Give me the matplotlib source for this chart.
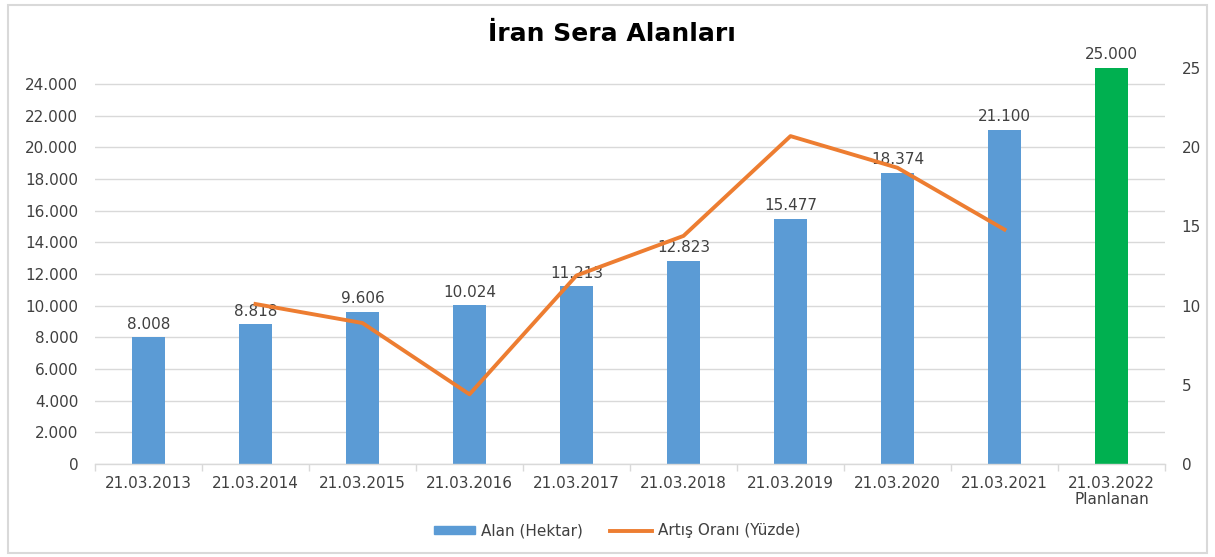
import matplotlib
matplotlib.use("Agg")
import matplotlib.pyplot as plt
from matplotlib.patches import Rectangle
from matplotlib.lines import Line2D
from matplotlib.ticker import FuncFormatter

categories = ["21.03.2013", "21.03.2014", "21.03.2015", "21.03.2016", "21.03.2017",
              "21.03.2018", "21.03.2019", "21.03.2020", "21.03.2021", "21.03.2022\nPlanlanan"]
area = [8008, 8818, 9606, 10024, 11213, 12823, 15477, 18374, 21100, 25000]
growth = [None, 10.1, 8.9, 4.4, 11.9, 14.4, 20.7, 18.7, 14.8, None]

plt.rcParams['font.family'] = ['DejaVu Sans']
txt = '#404040'
blue = '#5B9BD5'
green = '#00B050'
orange = '#ED7D31'
fs = 11

fig = plt.figure(figsize=(12.15, 5.57), dpi=100)
fig.patches.append(Rectangle((8/1215, 4/557), 1199/1215, 548/557, transform=fig.transFigure,
                             fill=False, edgecolor='#d9d9d9', linewidth=1.5))
ax = fig.add_axes([95/1215, 1-464/557, 1070/1215, 396/557])
x = list(range(len(categories)))
colors = [blue]*9 + [green]
ax.bar(x, area, width=0.31, color=colors, zorder=2)
ax.set_xlim(-0.5, len(categories)-0.5)
ax.set_ylim(0, 25000)
ax.set_yticks(range(0, 24001, 2000))
fmt = lambda v, p: f"{int(v):,}".replace(",", ".")
ax.yaxis.set_major_formatter(FuncFormatter(fmt))
ax.grid(axis='y', color='#d9d9d9', linewidth=1, zorder=0)
for s in ['top', 'right', 'left']:
    ax.spines[s].set_visible(False)
ax.spines['bottom'].set_color('#d9d9d9')
ax.spines['bottom'].set_linewidth(1)
ax.set_xticks(x)
ax.set_xticklabels(categories, fontsize=fs, color=txt, linespacing=1.0)
ax.tick_params(axis='x', length=0, pad=9)
ax.set_xticks([i + 0.5 for i in range(-1, len(categories))], minor=True)
ax.tick_params(axis='x', which='minor', length=5, color='#d9d9d9', width=1)
ax.tick_params(axis='y', length=0, labelsize=fs, labelcolor=txt, pad=12)
for xi, v in zip(x, area):
    ax.annotate(fmt(v, None), (xi, v), xytext=(0, 4), textcoords='offset points',
                ha='center', va='bottom', fontsize=fs, color=txt)

ax2 = ax.twinx()
gx = [xi for xi, g in zip(x, growth) if g is not None]
gy = [g for g in growth if g is not None]
ax2.plot(gx, gy, color=orange, linewidth=2.8, zorder=3)
ax2.set_ylim(0, 25)
ax2.set_yticks(range(0, 26, 5))
for s in ['top', 'right', 'left', 'bottom']:
    ax2.spines[s].set_visible(False)
ax2.tick_params(axis='y', length=0, labelsize=fs, labelcolor=txt, pad=12)

fig.text(612/1215, 1-34/557, "İran Sera Alanları", ha='center', va='center',
         fontsize=18, fontweight='bold', color='black')

handles = [Rectangle((0, 0), 1, 1, color=blue),
           Line2D([0], [0], color=orange, linewidth=2.8)]
fig.legend(handles, ["Alan (Hektar)", "Artış Oranı (Yüzde)"], loc='center',
           bbox_to_anchor=(617/1215, 1-531/557), ncol=2, frameon=False,
           fontsize=11, labelcolor=txt, handlelength=2.7, handleheight=0.35,
           columnspacing=1.8, handletextpad=0.4)

fig.savefig("out.png", dpi=100)
